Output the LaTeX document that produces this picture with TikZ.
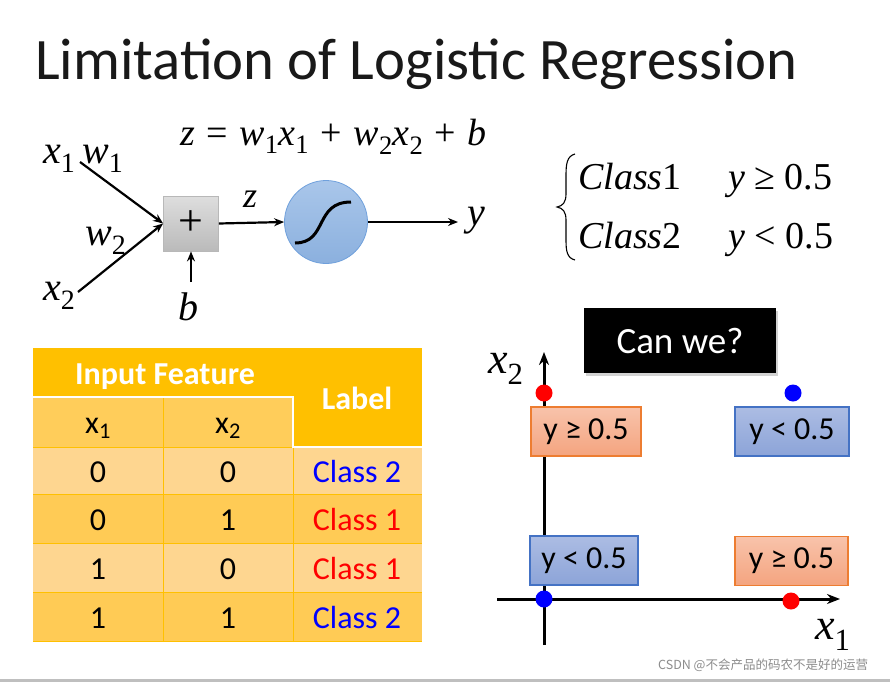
\documentclass[tikz,border=0pt]{standalone}
\usepackage{fontspec}
\setmainfont{Carlito}
\newfontfamily\tnr{Liberation Serif}
\newfontfamily\cjk{Noto Sans CJK SC}
\usetikzlibrary{arrows.meta,shadows}
\definecolor{hdr}{HTML}{FFC000}
\definecolor{subhdr}{HTML}{FFCD5A}
\definecolor{rowlight}{HTML}{FED690}
\definecolor{rowdark}{HTML}{FFCB55}
\definecolor{orgtop}{HTML}{F8C3AB}
\definecolor{orgbot}{HTML}{F4A47F}
\definecolor{orgline}{HTML}{ED7D31}
\definecolor{bluetop}{HTML}{ACBCE3}
\definecolor{bluebot}{HTML}{8CA4D8}
\definecolor{blueline}{HTML}{4472C4}
\definecolor{circtop}{HTML}{A9C6EA}
\definecolor{circbot}{HTML}{8BB0DE}
\definecolor{circline}{HTML}{6FA0DC}
\definecolor{classblue}{HTML}{0000FF}
\definecolor{classred}{HTML}{FF0000}
\newcommand\sbs[1]{\textsubscript{\upshape#1}}
\newcommand\gp{\hspace{2pt}}
\begin{document}
\begin{tikzpicture}[x=1pt,y=-1pt,
  lab/.style={anchor=base west, inner sep=0pt, font=\tnr\itshape\fontsize{40}{48}\selectfont},
  axlab/.style={anchor=base west, inner sep=0pt, font=\tnr\itshape\fontsize{44}{52}\selectfont},
  arr/.style={-{Stealth[length=10pt,width=8pt]}, line width=2.2pt},
  axisline/.style={-{Stealth[length=13pt,width=10pt]}, line width=3pt},
  dot/.style={circle, inner sep=0pt, minimum size=17pt},
  obox/.style={rectangle, top color=orgtop, bottom color=orgbot, draw=orgline, line width=1.2pt, minimum height=49pt, font=\fontsize{32}{38}\selectfont},
  bbox/.style={rectangle, top color=bluetop, bottom color=bluebot, draw=blueline, line width=1.2pt, minimum height=49pt, font=\fontsize{32}{38}\selectfont},
  cell/.style={anchor=base, inner sep=0pt, font=\fontsize{32}{38}\selectfont},
  hcell/.style={anchor=base, inner sep=0pt, text=white, font=\bfseries\fontsize{32}{38}\selectfont},
  cls/.style={anchor=base west, inner sep=0pt, font=\tnr\fontsize{38}{45}\selectfont}
]
\useasboundingbox (0,0) rectangle (890,682);
\fill[white] (0,0) rectangle (890,682);
\fill[black!25] (0,679) rectangle (890,682);

% title
\node[anchor=base west, inner sep=0pt, text=black!90, font=\fontsize{58.7}{70}\selectfont] (title) at (35,80) {Limitation of Logistic Regression};

% equation
\node[anchor=base west, inner sep=0pt, font=\tnr\fontsize{38}{45}\selectfont] (eq) at (180,145)
  {\textit{z}\gp{} =\gp{} \textit{w}\sbs{1}\textit{x}\sbs{1}\gp{} +\gp{} \textit{w}\sbs{2}\textit{x}\sbs{2}\gp{} +\gp{} \textit{b}};

% neuron
\node[lab] (x1) at (43,163) {x\sbs{1}};
\node[lab] (w1) at (82,163) {w\sbs{1}};
\node[lab] (w2) at (85,245) {w\sbs{2}};
\node[lab] (x2) at (43,300) {x\sbs{2}};
\node[lab, font=\tnr\itshape\fontsize{36}{43}\selectfont] (zl) at (243,207) {z};
\node[lab] (yl) at (467,225) {y};
\node[lab] (bl) at (178,320) {b};

\node[rectangle, minimum size=55pt, inner sep=0pt, top color=black!13, bottom color=black!27, draw=black!28, line width=0.8pt,
  font=\tnr\fontsize{44}{52}\selectfont] (sum) at (191,223.5) {+};
\node[circle, minimum size=83pt, inner sep=0pt, top color=circtop, bottom color=circbot, draw=circline, line width=0.8pt] (sig) at (326,222) {};
\draw[line width=3pt] ([shift={(-31,21)}]sig.center) .. controls ([shift={(2,21)}]sig.center) and ([shift={(-12,-20)}]sig.center) .. ([shift={(25,-20)}]sig.center);

\coordinate (x1s) at (80,162);
\coordinate (x2s) at (78,292);
\coordinate (bs) at (191,282);
\coordinate (ye) at (458,222);
\draw[arr] (x1s) -- (sum.west);
\draw[arr] (x2s) -- (sum.west);
\draw[arr] (bs) -- (sum.south);
\draw[arr] (sum.east) -- (sig.west);
\draw[arr] (sig.east) -- (ye);

% classes with brace
\draw[line width=1.1pt] (575,154) .. controls (567,156) and (566,164) .. (566,175) -- (566,194) .. controls (566,202) and (563,206) .. (557,207)
  .. controls (563,208) and (566,212) .. (566,220) -- (566,240) .. controls (566,251) and (567,258) .. (575,260);
\node[cls] (c1) at (578,189) {\textit{Class}1};
\node[cls] (v1) at (728,189) {\textit{y} ≥ 0.5};
\node[cls] (c2) at (578,248) {\textit{Class}2};
\node[cls] (v2) at (728,248) {\textit{y} < 0.5};

% Can we?
\node[fill=black, minimum width=192pt, minimum height=65pt, inner sep=0pt, text=white, font=\fontsize{37}{44}\selectfont,
  drop shadow={opacity=0.35, shadow xshift=2pt, shadow yshift=-3pt}] (can) at (680,340.5) {Can we?};

% axes
\coordinate (xa0) at (497,599);
\coordinate (xa1) at (840,599);
\coordinate (ya0) at (544,645);
\coordinate (ya1) at (544,352);
\draw[axisline] (xa0) -- (xa1);
\draw[axisline] (ya0) -- (ya1);
\node[axlab] (ax2) at (488,373) {x\sbs{2}};
\node[axlab] (ax1) at (815,639) {x\sbs{1}};

\node[obox, minimum width=110pt] (b01) at (586,431.5) {y ≥ 0.5};
\node[bbox, minimum width=114pt] (b11) at (792,431.5) {y < 0.5};
\node[bbox, minimum width=108pt] (b00) at (584,560.5) {y < 0.5};
\node[obox, minimum width=113pt] (b10) at (791.5,561) {y ≥ 0.5};

\node[dot, fill=red] (d01) at (544,393) {};
\node[dot, fill=blue] (d11) at (793,393) {};
\node[dot, fill=blue] (d00) at (544,599) {};
\node[dot, fill=red] (d10) at (791,601) {};

% table
\fill[hdr] (33,348) rectangle (422,397);
\fill[hdr] (293,397) rectangle (422,447);
\fill[subhdr] (33,397) rectangle (293,447);
\fill[rowlight] (33,447) rectangle (422,494);
\fill[rowdark] (33,494) rectangle (422,543);
\fill[rowlight] (33,543) rectangle (422,592);
\fill[rowdark] (33,592) rectangle (422,641);
\draw[hdr, line width=0.8pt] (163,397) -- (163,641) (293,447) -- (293,641)
  (33,494) -- (422,494) (33,543) -- (422,543) (33,592) -- (422,592) (33,641) -- (422,641)
  (33,447) -- (293,447);
\draw[white, line width=1.6pt] (33,397) -- (293,397) -- (293,447) -- (422,447);

\node[hcell] (hin) at (165,384) {Input Feature};
\node[hcell] (hlab) at (357,409) {Label};
\node[cell] (hx1) at (98,433) {x\textsubscript{1}};
\node[cell] (hx2) at (228,433) {x\textsubscript{2}};

\node[cell] (r1a) at (98,482) {0};
\node[cell] (r1b) at (228,482) {0};
\node[cell, text=classblue] (r1c) at (357,482) {Class 2};
\node[cell] (r2a) at (98,530) {0};
\node[cell] (r2b) at (228,530) {1};
\node[cell, text=classred] (r2c) at (357,530) {Class 1};
\node[cell] (r3a) at (98,579) {1};
\node[cell] (r3b) at (228,579) {0};
\node[cell, text=classred] (r3c) at (357,579) {Class 1};
\node[cell] (r4a) at (98,628) {1};
\node[cell] (r4b) at (228,628) {1};
\node[cell, text=classblue] (r4c) at (357,628) {Class 2};

% watermark
\node[anchor=base west, inner sep=0pt, text=black!45, font=\cjk\fontsize{12.5}{15}\selectfont] (wm) at (658,669) {CSDN @不会产品的码农不是好的运营};
\end{tikzpicture}
\end{document}
